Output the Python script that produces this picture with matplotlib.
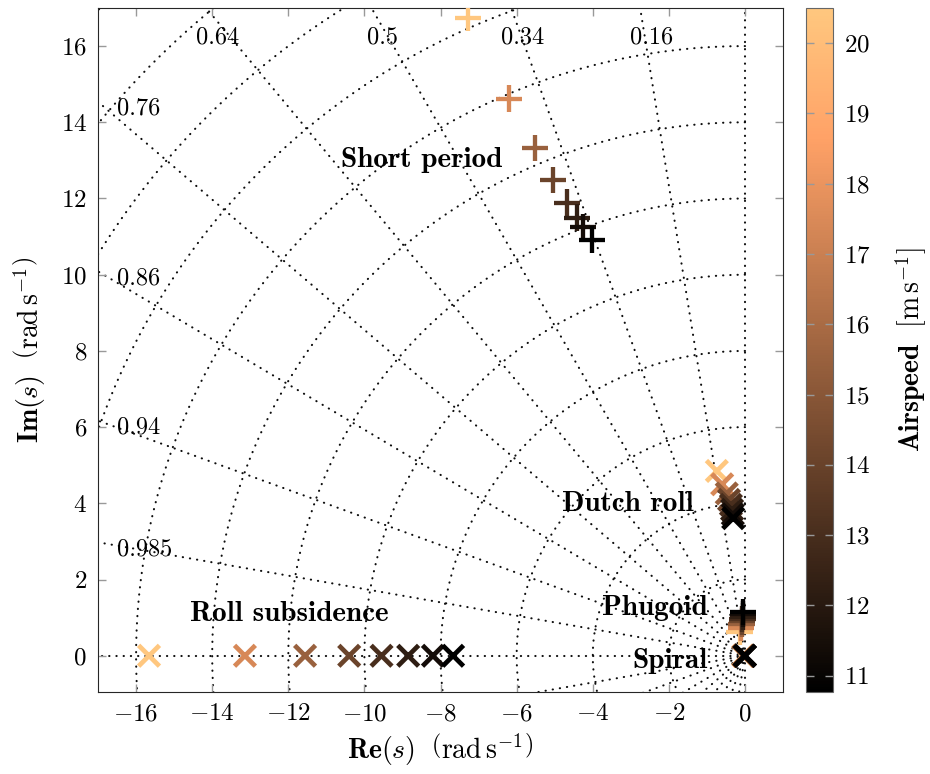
import numpy as np
import matplotlib
matplotlib.use("Agg")
import matplotlib.pyplot as plt
from matplotlib.colors import Normalize

plt.rcParams["font.family"] = "serif"
plt.rcParams["font.serif"] = ["cmr10"]
plt.rcParams["mathtext.fontset"] = "cm"
plt.rcParams["axes.formatter.use_mathtext"] = True
plt.rcParams["lines.scale_dashes"] = False

# Trim airspeeds (m/s), fastest first so the slow cases are drawn on top
airspeed = np.array([20.5, 17.4, 15.5, 14.1, 13.05, 12.2, 11.4, 10.77])

# Longitudinal modes (upper-half-plane poles)
short_period_re = np.array([-7.28, -6.20, -5.52, -5.05, -4.68, -4.42, -4.26, -4.02])
short_period_im = np.array([16.74, 14.62, 13.33, 12.49, 11.89, 11.50, 11.26, 10.92])
phugoid_re = np.array([-0.14, -0.11, -0.09, -0.08, -0.07, -0.06, -0.05, -0.05])
phugoid_im = np.array([0.62, 0.74, 0.83, 0.90, 0.97, 1.03, 1.09, 1.15])

# Lateral modes
roll_re = np.array([-15.66, -13.14, -11.56, -10.40, -9.55, -8.85, -8.20, -7.67])
roll_im = np.zeros(8)
dutch_roll_re = np.array([-0.74, -0.60, -0.48, -0.42, -0.37, -0.34, -0.32, -0.31])
dutch_roll_im = np.array([4.85, 4.50, 4.26, 4.09, 3.96, 3.83, 3.71, 3.61])
spiral_re = np.array([-0.05, -0.04, -0.03, -0.02, -0.015, -0.01, -0.005, 0.0])
spiral_im = np.zeros(8)

# s-plane grid: damping ratio rays and natural frequency arcs
zeta_values = [0.16, 0.34, 0.5, 0.64, 0.76, 0.86, 0.94, 0.985]
wn_values = np.arange(2, 26, 2)

mode_names = ["Short period", "Dutch roll", "Phugoid", "Spiral", "Roll subsidence"]
mode_label_xy = [(-8.49, 13.02), (-3.07, 3.99), (-2.37, 1.26), (-1.97, -0.13), (-11.98, 1.10)]

xlim = (-17, 1)
ylim = (-0.95, 17)

fig = plt.figure(figsize=(9.3, 7.74), dpi=100)
ax = fig.add_axes([0.1054, 0.106, 0.7366, 0.8837])
cax = fig.add_axes([0.8667, 0.106, 0.029, 0.8837])

grid_kw = dict(color="0.05", lw=1.5, linestyle=(0, (0.2, 5.0)),
               dash_capstyle="round", zorder=0)
R = 40
for z in [0.0] + zeta_values:
    th = np.arccos(z)
    for sgn in (1, -1):
        ax.plot([0, -R * np.cos(th)], [0, sgn * R * np.sin(th)], **grid_kw)
ax.plot([0, -R], [0, 0], **grid_kw)
phi = np.linspace(np.pi / 2, 3 * np.pi / 2, 600)
for wn in wn_values:
    ax.plot(wn * np.cos(phi), wn * np.sin(phi), **grid_kw)

# damping ratio labels where the rays leave the frame
for z in zeta_values:
    th = np.arccos(z)
    top_x = -ylim[1] * np.cos(th) / np.sin(th)
    if top_x > xlim[0]:
        ax.text(top_x + 0.3, 16.22, f"{z:g}", ha="center", va="center", fontsize=17.5)
    else:
        left_y = -xlim[0] * np.tan(th)
        ax.text(-16.5, left_y - 0.18, f"{z:g}", ha="left", va="center", fontsize=17.5)

norm = Normalize(vmin=10.77, vmax=20.5)
cmap = "copper"
plus_kw = dict(marker="+", s=19 ** 2, linewidths=3.1, cmap=cmap, norm=norm, zorder=3)
cross_kw = dict(marker="x", s=15 ** 2, linewidths=3.4, cmap=cmap, norm=norm, zorder=3)

sc = ax.scatter(short_period_re, short_period_im, c=airspeed, **plus_kw)
ax.scatter(phugoid_re, phugoid_im, c=airspeed, **plus_kw)
ax.scatter(roll_re, roll_im, c=airspeed, **cross_kw)
ax.scatter(dutch_roll_re, dutch_roll_im, c=airspeed, **cross_kw)
ax.scatter(spiral_re, spiral_im, c=airspeed, **cross_kw)

for name, (tx, ty) in zip(mode_names, mode_label_xy):
    ax.text(tx, ty, name, family="cmb10", fontsize=21, ha="center", va="center", zorder=4)

ax.set_xlim(*xlim)
ax.set_ylim(*ylim)
ax.set_xticks(np.arange(-16, 1, 2))
ax.set_yticks(np.arange(0, 17, 2))
ax.tick_params(direction="in", top=True, right=True, length=6, width=1,
               color="0.6", labelsize=18, pad=8)
for sp in ax.spines.values():
    sp.set_color("0.15")
ax.set_xlabel(r"$\mathbf{Re}(s)\ \ \left(\mathrm{rad\,s^{-1}}\right)$", fontsize=20, labelpad=4)
ax.set_ylabel(r"$\mathbf{Im}(s)\ \ \left(\mathrm{rad\,s^{-1}}\right)$", fontsize=20, labelpad=10)

cb = fig.colorbar(sc, cax=cax)
cb.set_ticks(np.arange(11, 21, 1))
cax.tick_params(direction="in", left=True, right=True, length=6, width=1,
                color="0.6", labelsize=18, pad=8)
cb.outline.set_edgecolor("0.4")
cb.set_label(r"$\mathbf{Airspeed}\ \ [\mathrm{m\,s^{-1}}]$", fontsize=20, labelpad=16)

fig.savefig("out.png", dpi=100)
